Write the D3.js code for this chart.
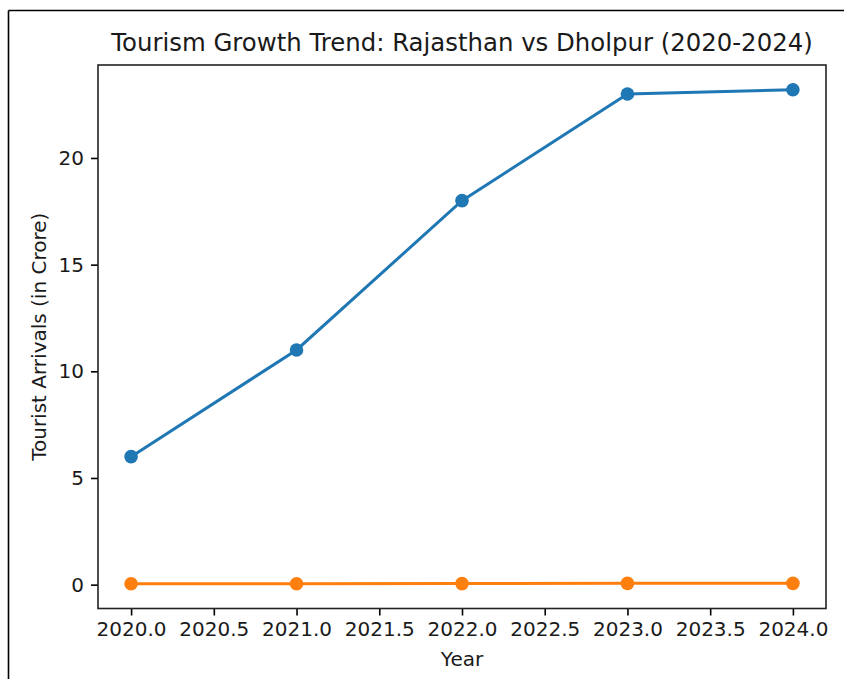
<!DOCTYPE html>
<html>
<head>
<meta charset="utf-8">
<script src="https://cdn.jsdelivr.net/npm/d3@7"></script>
<style>
  html, body { margin: 0; padding: 0; background: #fff; }
  svg { display: block; font-family: "DejaVu Sans", sans-serif; }
</style>
</head>
<body>
<svg id="chart" width="844" height="679"></svg>
<script>
const years = [2020, 2021, 2022, 2023, 2024];
const rajasthan = [6.0, 11.0, 18.0, 23.0, 23.2];
const dholpur = [0.04, 0.045, 0.05, 0.06, 0.06];
const xTicks = [2020.0, 2020.5, 2021.0, 2021.5, 2022.0, 2022.5, 2023.0, 2023.5, 2024.0];
const yTicks = [0, 5, 10, 15, 20];
const titleText = "Tourism Growth Trend: Rajasthan vs Dholpur (2020-2024)";
const xLabel = "Year";
const yLabel = "Tourist Arrivals (in Crore)";

(function () {
const svg = d3.select("#chart");
const pLeft = 98, pRight = 826, pTop = 65, pBottom = 608.5;
const tickFont = "20px";

// outer frame (only left and top visible)
svg.append("line").attr("x1", 8.5).attr("y1", 10.5).attr("x2", 8.5).attr("y2", 679)
  .attr("stroke", "#000").attr("stroke-width", 1.6);
svg.append("line").attr("x1", 8.5).attr("y1", 10.5).attr("x2", 844).attr("y2", 10.5)
  .attr("stroke", "#000").attr("stroke-width", 1.6);

const allVals = rajasthan.concat(dholpur);
const ymin = d3.min(allVals), ymax = d3.max(allVals);
const ym = (ymax - ymin) * 0.05;
const x = d3.scaleLinear().domain([2019.8, 2024.2]).range([pLeft, pRight]);
const y = d3.scaleLinear().domain([ymin - ym, ymax + ym]).range([pBottom, pTop]);

const xAxis = svg.append("g").attr("transform", `translate(0,${pBottom})`)
  .call(d3.axisBottom(x).tickValues(xTicks).tickFormat(d3.format(".1f")).tickSizeInner(7).tickSizeOuter(0).tickPadding(6));
const yAxis = svg.append("g").attr("transform", `translate(${pLeft},0)`)
  .call(d3.axisLeft(y).tickValues(yTicks).tickFormat(d3.format("d")).tickSizeInner(7).tickSizeOuter(0).tickPadding(7));
[xAxis, yAxis].forEach(g => {
  g.select(".domain").remove();
  g.selectAll(".tick line").attr("stroke", "#000").attr("stroke-width", 1.6);
  g.selectAll(".tick text").attr("fill", "#1a1a1a").style("font-size", tickFont).style("font-family", "DejaVu Sans");
});

const line = d3.line().x((d, i) => x(years[i])).y(d => y(d));
const series = [
  { values: rajasthan, color: "#1f77b4" },
  { values: dholpur, color: "#ff7f0e" }
];
series.forEach(s => {
  svg.append("path").datum(s.values).attr("d", line)
    .attr("fill", "none").attr("stroke", s.color).attr("stroke-width", 3);
  svg.append("g").selectAll("circle").data(s.values).join("circle")
    .attr("cx", (d, i) => x(years[i])).attr("cy", d => y(d)).attr("r", 6.8)
    .attr("fill", s.color);
});

// spines
svg.append("rect").attr("x", pLeft).attr("y", pTop).attr("width", pRight - pLeft).attr("height", pBottom - pTop)
  .attr("fill", "none").attr("stroke", "#222").attr("stroke-width", 1.6);

svg.append("text").attr("x", (pLeft + pRight) / 2).attr("y", 51).attr("text-anchor", "middle")
  .style("font-size", "24.4px").attr("fill", "#1a1a1a").text(titleText);
svg.append("text").attr("x", (pLeft + pRight) / 2).attr("y", 666).attr("text-anchor", "middle")
  .style("font-size", tickFont).attr("fill", "#1a1a1a").text(xLabel);
svg.append("text").attr("transform", `translate(46,${(pTop + pBottom) / 2}) rotate(-90)`)
  .attr("text-anchor", "middle").style("font-size", tickFont).attr("fill", "#1a1a1a").text(yLabel);
})();
</script>
</body>
</html>
